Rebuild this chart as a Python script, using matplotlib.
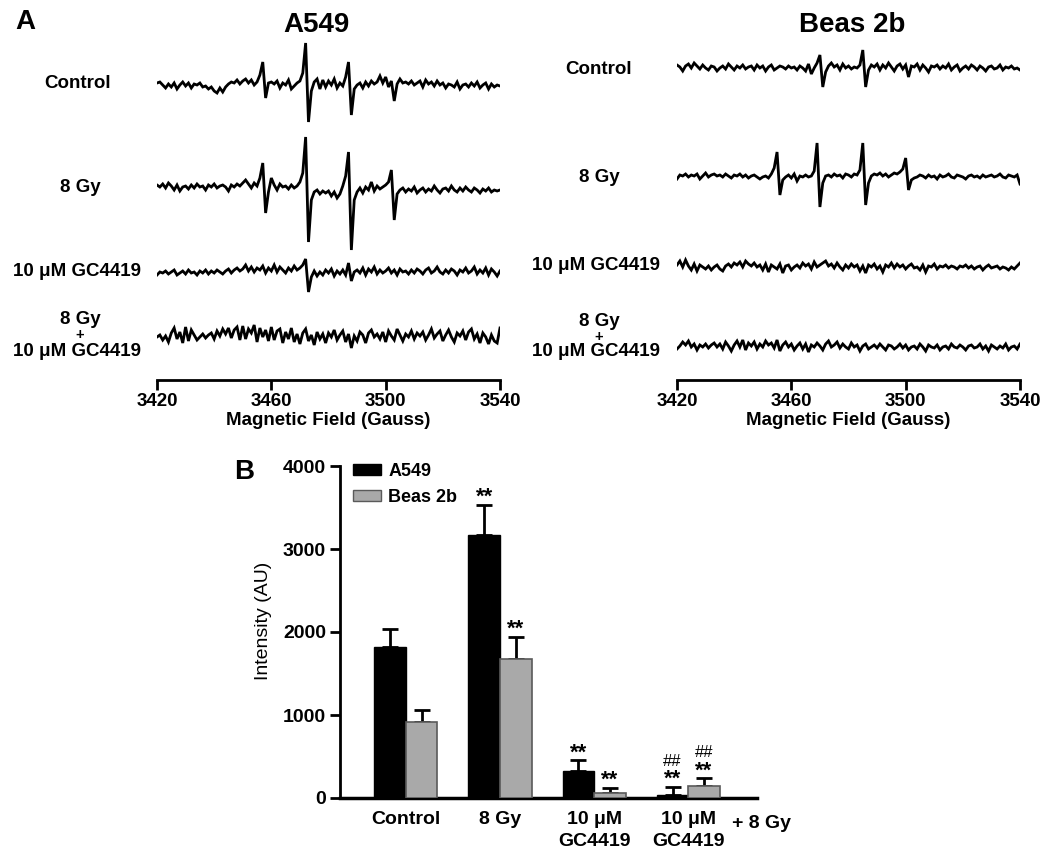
import numpy as np
import matplotlib
matplotlib.use('Agg')
import matplotlib.pyplot as plt
from matplotlib.patches import Patch

plt.rcParams['font.family'] = ['Liberation Sans', 'DejaVu Sans']
plt.rcParams['font.weight'] = 'bold'
plt.rcParams['axes.labelweight'] = 'bold'

W, H = 1050, 860

# EPR spectra, field axis in Gauss (1 G steps), signal (px, up = +)
FIELD = np.arange(3420, 3541)

a549_control = [
    2, 3, 0, -3, 1, -2, 2, -4, 0, 3,
    -1, 2, -3, 1, 0, 2, -2, -1, -4, -2,
    -6, -8, -3, -7, -2, 1, 3, 2, 5, 1,
    4, 6, 2, 5, 0, 3, 10, 23, -13, 2,
    3, 1, 4, -3, 2, 0, 5, -4, -1, 2,
    4, 12, 42, -37, -6, 3, 6, -4, 5, -2,
    4, 0, 6, -3, 2, -1, 8, 23, -30, -4,
    0, 2, -3, 3, -1, 4, 1, 3, 9, 2,
    8, -2, 4, -16, 1, 6, 2, 3, 1, 4,
    0, 2, 4, -2, 5, 1, 3, -1, 4, 0,
    2, -3, 1, 0, -2, 3, -4, 0, 1, -2,
    2, -1, 3, -3, 0, 2, -4, 1, -2, 0,
    -1]
a549_8gy = [
    3, 1, 4, 0, 5, 2, -2, 3, -3, 1,
    2, -1, 3, 0, 4, 1, 2, -2, 3, 1,
    4, 0, 2, 3, 1, -3, 3, 1, 4, 2,
    5, 8, 4, 0, 5, 2, 10, 25, -25, -4,
    10, 3, -2, 4, 1, 2, -1, 3, 0, 2,
    6, 15, 51, -54, -12, -4, -2, -6, -3, -5,
    -3, -8, -4, -10, -6, 2, 12, 36, -62, -12,
    -4, 0, -5, 1, -2, 6, -3, 2, -1, 1,
    3, 6, 18, -32, -6, -2, 0, -4, -1, -3,
    1, -5, -2, 0, -4, -1, -3, 2, -2, -5,
    -1, 0, -3, 2, -2, -4, 0, -3, 1, -2,
    -4, 0, -2, -5, -1, -3, 0, -4, -2, -3,
    -2]
a549_gc = [
    -2, 1, 0, 2, -1, 1, 3, -2, 0, 2,
    -1, 3, 0, 1, -2, 2, 0, 3, -1, 2,
    0, 3, 1, -1, 2, 4, 0, 3, 5, 2,
    4, 8, 2, 6, 1, 5, 3, 7, 0, 5,
    2, 8, 1, 6, 3, 0, 5, 2, 7, 3,
    5, 8, 14, -19, -4, 2, -3, 1, -2, 3,
    0, 4, -3, 2, -1, 3, -2, 10, -8, 1,
    3, 0, 5, -2, 4, 1, 6, -1, 3, 0,
    2, 5, 0, 3, -2, 4, 1, 2, -1, 3,
    0, 4, 2, -1, 3, 5, 0, 2, 6, 1,
    -1, 3, 0, 4, 2, -2, 3, 1, 5, 0,
    2, 6, -1, 3, 0, 5, -2, 4, 1, -3,
    2]
a549_combo = [
    0, 2, -3, 1, -5, 4, 9, -2, 5, -6,
    10, -4, 7, 2, -3, 0, 3, -1, 2, 4,
    -2, 6, 1, 8, 3, 9, -1, 7, 10, -3,
    11, -2, 8, 4, 12, -5, 9, 0, 7, -4,
    10, -3, 6, 8, -6, 5, -2, 9, -5, 3,
    -7, 4, 8, -4, 2, -8, 5, -2, 3, -6,
    4, 0, 7, -3, 2, 6, -5, 3, -11, 1,
    -4, 5, 2, -6, 4, 7, 0, 3, -2, 5,
    -5, 6, 1, -3, 8, 2, -4, 3, 0, 6,
    -2, 4, 1, 5, -3, 2, 8, -1, 3, 6,
    -4, 2, 7, 0, -5, 4, 1, 6, -3, 5,
    8, -2, 3, -6, 4, 0, -7, 2, -4, -6,
    9]

beas_control = [
    3, 1, -3, 2, 4, 0, 5, 2, -1, 3,
    0, -2, 2, 1, -3, 0, 2, -1, 4, 1,
    -2, 2, 0, 3, -1, 1, 2, -2, 3, 0,
    2, -3, 1, 3, -2, 0, 2, 1, -1, 2,
    0, 1, -2, 2, 0, -3, 4, -6, 0, 5,
    13, -19, -4, 2, 5, 1, 3, -2, 4, 0,
    2, -1, 1, 0, 3, 18, -19, -2, 3, 1,
    4, -2, 3, 0, 5, 1, -3, 2, 4, -1,
    3, -9, 2, 1, 4, -2, 3, 0, -4, 2,
    1, 3, -1, 2, 0, 4, -2, 1, 3, -3,
    0, 2, -1, 3, 1, -2, 2, 0, -3, 1,
    2, -1, 0, 3, -2, 1, 0, 2, -1, 0,
    -2]
beas_8gy = [
    -2, 2, 1, 3, 0, 2, 1, 3, -2, 1,
    4, 0, 2, 3, 1, 2, 0, 3, 1, -1,
    2, 1, 3, 0, 2, -1, 1, 2, 0, -2,
    0, 1, -1, 3, 9, 25, -18, -3, 0, 2,
    -1, 3, -4, 1, 0, 2, 0, 1, 6, 34,
    -30, -6, 1, 2, 0, 3, 1, 2, -1, 3,
    2, 0, 3, 2, 7, 34, -28, -6, 1, 3,
    2, 4, 1, 3, 0, 2, 4, 3, 5, 8,
    19, -13, -3, -1, 0, 2, 1, -1, 2, 0,
    1, -2, 2, 0, 1, 3, 0, -1, 2, 1,
    0, -2, 1, 2, 0, 1, -1, 2, 0, 1,
    2, 0, 1, 3, 0, -1, 2, 1, 0, 2,
    -7]
beas_gc = [
    2, 6, 0, 7, 1, -3, 3, -4, 2, 0,
    -2, 1, -3, 0, 2, -2, -4, 1, 3, 0,
    4, 2, 5, 0, 6, 3, 1, 4, 0, 2,
    -3, 3, -5, 2, 0, -2, 3, -6, 1, 2,
    -3, 0, 2, -1, 4, 1, 3, -2, 5, 0,
    2, 4, 6, 1, 3, -1, 4, 0, -3, 2,
    -1, 3, 0, 2, -4, 1, -6, 2, 0, 3,
    -2, 1, -5, 2, 0, 4, -1, 3, 0, 2,
    -2, 1, 3, -1, 0, -3, 2, -5, 1, 0,
    3, -2, 1, 0, 2, -1, 1, 0, -2, 1,
    0, 2, -1, 1, -2, 0, 1, -3, 0, 2,
    -1, 0, 1, -2, 0, -1, -3, 0, -2, 1,
    4]
beas_combo = [
    -2, 1, 5, 2, 6, 0, 3, -3, 2, 0,
    3, -1, 2, 4, 0, 3, -2, 5, 1, -4,
    2, 6, 0, 7, -3, 4, 1, 5, -2, 3,
    0, 6, 2, 4, -1, 7, -4, 2, 5, 0,
    3, -3, 1, 4, -2, 3, -5, 2, 0, 4,
    1, -3, 3, 6, 0, 2, 5, -1, 3, 0,
    -2, 4, 0, 2, -4, 1, 3, -2, 0, 2,
    -1, 3, 0, -3, 2, 1, -2, 0, 3, -1,
    2, -3, 0, 1, -2, 3, 0, -4, 2, 0,
    -1, 2, -3, 0, 1, -2, 3, 0, -1, 2,
    0, -3, 1, 2, -1, 0, 3, -2, 1, -4,
    2, 0, -2, 1, -1, 3, -3, 0, 1, -2,
    3]

# Panel B: mean intensity (AU) and upper SD
groups = ["Control", "8 Gy", "10 \u03bcM\nGC4419", "10 \u03bcM\nGC4419"]
a549_mean = [1820, 3170, 330, 40]
a549_err = [216, 360, 124, 92]
beas_mean = [920, 1675, 56, 148]
beas_err = [146, 265, 68, 89]
a549_stars = ["", "**", "**", "**"]
a549_hash = ["", "", "", "##"]
beas_stars = ["", "**", "**", "**"]
beas_hash = ["", "", "", "##"]


def fx(x):
    return x / W


def fy(y):
    return 1 - y / H


def spectra_axes(fig, x0, traces, baselines):
    ax = fig.add_axes([fx(x0), fy(380), 343 / W, 350 / H])
    for sig, base in zip(traces, baselines):
        ax.plot(FIELD, np.array(sig) + (380 - base), color='black', lw=2.0,
                solid_joinstyle='miter')
    ax.set_xlim(3420, 3540)
    ax.set_ylim(0, 350)
    for s in ['top', 'right', 'left']:
        ax.spines[s].set_visible(False)
    ax.spines['bottom'].set_linewidth(2)
    ax.set_yticks([])
    ax.set_xticks([3420, 3460, 3500, 3540])
    ax.tick_params(axis='x', length=7, width=2, direction='out', labelsize=13.5, pad=2)
    ax.set_xlabel("Magnetic Field (Gauss)", fontsize=13.5, labelpad=2)
    return ax


def combo_label(xc, y_top, y_plus, y_bot):
    fig.text(fx(xc + 3), fy(y_top), "8 Gy", **lab)
    fig.text(fx(xc + 3), fy(y_plus), "+", fontsize=10.5, ha='center', va='center')
    fig.text(fx(xc), fy(y_bot), "10 \u03bcM GC4419", **lab)


fig = plt.figure(figsize=(W / 100, H / 100), dpi=100)

spectra_axes(fig, 157, [a549_control, a549_8gy, a549_gc, a549_combo], [85, 188, 273, 337])
spectra_axes(fig, 677, [beas_control, beas_8gy, beas_gc, beas_combo], [68, 177, 267, 347])

lab = dict(fontsize=13.5, ha='center', va='center')
fig.text(fx(78), fy(83), "Control", **lab)
fig.text(fx(80), fy(188), "8 Gy", **lab)
fig.text(fx(77), fy(272), "10 \u03bcM GC4419", **lab)
combo_label(77, 319, 335, 352)

fig.text(fx(599), fy(70), "Control", **lab)
fig.text(fx(599), fy(178), "8 Gy", **lab)
fig.text(fx(596), fy(265), "10 \u03bcM GC4419", **lab)
combo_label(596, 322, 337, 351)

fig.text(fx(316), fy(25), "A549", fontsize=20, ha='center', va='center')
fig.text(fx(852), fy(25), "Beas 2b", fontsize=20, ha='center', va='center')
fig.text(fx(25), fy(22), "A", fontsize=20, ha='center', va='center')
fig.text(fx(244), fy(472), "B", fontsize=20, ha='center', va='center')

# Panel B bar chart
axb = fig.add_axes([fx(340), fy(798), 417 / W, 332 / H])
x = np.arange(len(groups))
w = 0.335
axb.bar(x - w / 2, a549_mean, w, color='black', edgecolor='black', lw=1, zorder=3)
axb.bar(x + w / 2, beas_mean, w, color='#a9a9a9', edgecolor='#5a5a5a', lw=1.2, zorder=3)
zeros = [0] * len(groups)
axb.errorbar(x - w / 2, a549_mean, yerr=[zeros, a549_err], fmt='none', ecolor='black',
             elinewidth=2, capsize=6, capthick=2, zorder=2)
axb.errorbar(x + w / 2, beas_mean, yerr=[zeros, beas_err], fmt='none', ecolor='black',
             elinewidth=2, capsize=6, capthick=2, zorder=2)

px = 4000 / 332
for xi, m, e, s, h in zip(x - w / 2, a549_mean, a549_err, a549_stars, a549_hash):
    axb.text(xi, m + e + 2 * px, s, fontsize=16, ha='center', va='baseline')
    axb.text(xi, m + e + 21 * px, h, fontsize=12, ha='center', va='baseline', fontweight='normal')
for xi, m, e, s, h in zip(x + w / 2, beas_mean, beas_err, beas_stars, beas_hash):
    axb.text(xi, m + e + 2 * px, s, fontsize=16, ha='center', va='baseline')
    axb.text(xi, m + e + 21 * px, h, fontsize=12, ha='center', va='baseline', fontweight='normal')

axb.set_xlim(-0.70, 3.73)
axb.set_ylim(0, 4000)
axb.set_yticks([0, 1000, 2000, 3000, 4000])
axb.set_xticks(x)
axb.set_xticklabels(groups, linespacing=1.45)
axb.tick_params(axis='y', length=7, width=2, direction='out', labelsize=14, pad=3)
axb.tick_params(axis='x', length=0, labelsize=14, pad=9)
for s in ['top', 'right']:
    axb.spines[s].set_visible(False)
axb.spines['left'].set_linewidth(2)
axb.spines['bottom'].set_linewidth(2.5)
fig.text(fx(263), fy(621), "Intensity (AU)", fontsize=14, fontweight='normal',
         rotation=90, ha='center', va='center')
fig.text(fx(762), fy(823), "+ 8 Gy", fontsize=14, ha='center', va='center')

handles = [Patch(facecolor='black', edgecolor='black', label='A549'),
           Patch(facecolor='#a9a9a9', edgecolor='#5a5a5a', label='Beas 2b')]
axb.legend(handles=handles, loc='upper left', bbox_to_anchor=(fx(353), fy(463)),
           bbox_transform=fig.transFigure, frameon=False, fontsize=13,
           handlelength=1.55, handleheight=0.6, handletextpad=0.4,
           labelspacing=0.5, borderpad=0, borderaxespad=0)

fig.savefig("out.png", dpi=100)
